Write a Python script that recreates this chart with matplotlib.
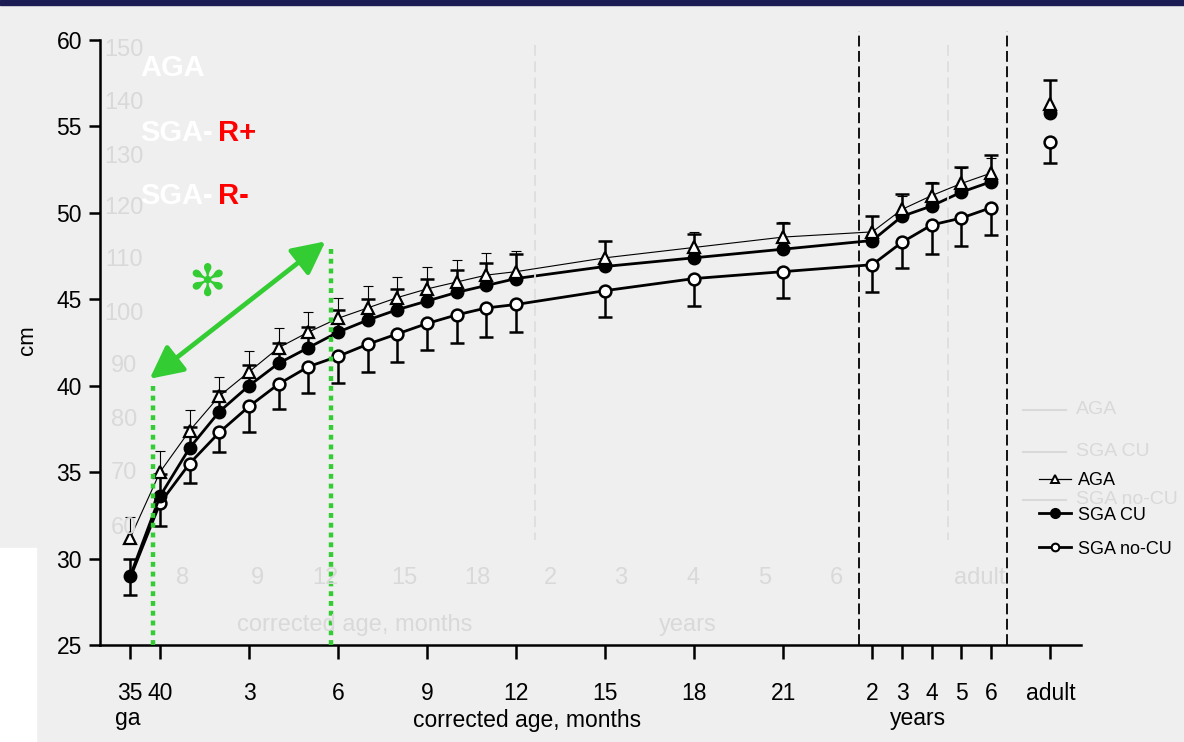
import matplotlib
matplotlib.use("Agg")
import matplotlib.pyplot as plt
from matplotlib.patches import Rectangle
from matplotlib.lines import Line2D
import numpy as np

plt.rcParams['font.family'] = ['Liberation Sans', 'DejaVu Sans']

# age positions: -1 = 35 wk ga, 0 = 40 wk, 1..21 = months, 24..28 = 2..6 years
age_x = [-1, 0, 1, 2, 3, 4, 5, 6, 7, 8, 9, 10, 11, 12, 15, 18, 21, 24, 25, 26, 27, 28]
adult_x = 30

aga = [31.2, 35.0, 37.4, 39.4, 40.8, 42.2, 43.1, 43.9, 44.5, 45.1, 45.6, 46.0, 46.4, 46.6,
       47.4, 48.0, 48.6, 48.9, 50.2, 51.0, 51.7, 52.3]
sga_cu = [29.0, 33.6, 36.4, 38.5, 40.0, 41.3, 42.2, 43.1, 43.8, 44.4, 44.9, 45.4, 45.8, 46.2,
          46.9, 47.4, 47.9, 48.4, 49.8, 50.4, 51.2, 51.8]
sga_nocu = [28.9, 33.2, 35.5, 37.3, 38.8, 40.1, 41.1, 41.7, 42.4, 43.0, 43.6, 44.1, 44.5, 44.7,
            45.5, 46.2, 46.6, 47.0, 48.3, 49.3, 49.7, 50.3]

# +1 SD for AGA / SGA CU, -1 SD for SGA no-CU
aga_sd = [1.2, 1.2, 1.2, 1.1, 1.2, 1.15, 1.15, 1.2, 1.25, 1.2, 1.25, 1.25, 1.25, 1.2,
          1.0, 0.9, 0.9, 0.9, 0.8, 0.8, 0.9, 0.9]
cu_sd = [1.0, 1.3, 1.2, 1.2, 1.2, 1.2, 1.2, 1.3, 1.2, 1.2, 1.3, 1.3, 1.3, 1.4,
         1.45, 1.4, 1.5, 1.4, 1.3, 1.3, 1.45, 1.55]
nocu_sd = [1.0, 1.3, 1.1, 1.15, 1.45, 1.45, 1.55, 1.55, 1.6, 1.6, 1.55, 1.6, 1.7, 1.6,
           1.55, 1.6, 1.55, 1.6, 1.5, 1.7, 1.6, 1.6]
cu_first_low_sd = 1.1

adult = {'aga': (56.3, 1.3), 'cu': (55.8, 1.9), 'nocu': (54.1, 1.2)}

tick_pos = [-1, 0, 3, 6, 9, 12, 15, 18, 21, 24, 25, 26, 27, 28, 30]
tick_lab = ['35', '40', '3', '6', '9', '12', '15', '18', '21', '2', '3', '4', '5', '6', 'adult']

GREEN = '#33cc33'
GHOST = '#d9d9d9'
W, H = 1184, 742


def fx(px):
    return px / W


def fy(py):
    return 1 - py / H


fig = plt.figure(figsize=(W / 100, H / 100), dpi=100)
fig.patch.set_facecolor('#efefef')
fig.add_artist(Rectangle((0, 0), fx(36), 194 / H, transform=fig.transFigure,
                         color='white', zorder=0))
fig.add_artist(Rectangle((0, fy(5)), 1, 5 / H, transform=fig.transFigure,
                         color='#1c1c54', zorder=0))

# faint show-through from the reverse page
for lab, py in zip(['150', '140', '130', '120', '110', '100', '90', '80', '70', '60'],
                   [50, 103, 157, 208, 260, 314, 366, 420, 473, 528]):
    fig.text(fx(124), fy(py), lab, color=GHOST, fontsize=17, ha='center', va='center')
for lab, px in zip(['8', '9', '12', '15', '18', '2', '3', '4', '5', '6', 'adult'],
                   [183, 257, 325, 404, 477, 550, 621, 693, 765, 836, 980]):
    fig.text(fx(px), fy(578), lab, color=GHOST, fontsize=17, ha='center', va='center')
fig.text(fx(355), fy(625), 'corrected age, months', color=GHOST, fontsize=17,
         ha='center', va='center')
fig.text(fx(688), fy(625), 'years', color=GHOST, fontsize=17, ha='center', va='center')
for lab, py in zip(['AGA', 'SGA CU', 'SGA no-CU'], [410, 452, 500]):
    fig.text(fx(1076), fy(py), lab, color=GHOST, fontsize=14, va='center')
    fig.add_artist(Line2D([fx(1023), fx(1066)], [fy(py), fy(py)], color=GHOST, lw=1.5))
for px in [535, 948]:
    fig.add_artist(Line2D([fx(px), fx(px)], [fy(45), fy(540)], color='#dedede',
                          lw=1.3, dashes=(6, 3)))

ax = fig.add_axes([fx(100), 97 / H, 981 / W, 605 / H])
ax.patch.set_alpha(0)
ax.set_xlim(-2.02, 31.03)
ax.set_ylim(25, 60)

x = np.array(age_x, dtype=float)


def draw_series(y, sd, sign, lw_line, lw_bar, cap, marker, mfc, ms, mew, z, first=0):
    y = np.array(y)
    ends = y + sign * np.array(sd)
    ax.plot(x, y, color='black', lw=lw_line, zorder=z)
    ax.vlines(x[first:], y[first:], ends[first:], color='black', lw=lw_bar, zorder=z)
    ax.plot(x[first:], ends[first:], ls='none', marker='_', ms=cap, mew=lw_bar,
            color='black', zorder=z)
    ax.plot(x[first:], y[first:], ls='none', marker=marker, mfc=mfc, mec='black', ms=ms,
            mew=mew, zorder=z + 0.5)


draw_series(sga_nocu, nocu_sd, -1, 2.0, 1.8, 10, 'o', 'white', 8.5, 1.8, 3, first=1)
draw_series(sga_cu, cu_sd, 1, 2.0, 1.8, 10, 'o', 'black', 9, 1.0, 4)
draw_series(aga, aga_sd, 1, 0.8, 0.8, 7, '^', 'white', 8.5, 1.6, 5)

# lower SD of SGA CU at 35 wk
ax.vlines(x[0], sga_cu[0], sga_cu[0] - cu_first_low_sd, color='black', lw=1.8, zorder=4)
ax.plot(x[0], sga_cu[0] - cu_first_low_sd, marker='_', ms=10, mew=1.8, color='black')

# adult values
v, s = adult['nocu']
ax.vlines(adult_x, v, v - s, color='black', lw=1.8, zorder=3)
ax.plot(adult_x, v - s, marker='_', ms=10, mew=1.8, color='black')
ax.plot(adult_x, v, marker='o', mfc='white', mec='black', ms=8.5, mew=1.8, zorder=3.5)
v, s = adult['cu']
ax.vlines(adult_x, v, v + s, color='black', lw=1.8, zorder=4)
ax.plot(adult_x, v + s, marker='_', ms=10, mew=1.8, color='black')
ax.plot(adult_x, v, marker='o', mfc='black', mec='black', ms=9, zorder=4.5)
v, s = adult['aga']
ax.plot(adult_x, v, marker='^', mfc='white', mec='black', ms=8.5, mew=1.6, zorder=5.5)

# period separators
for xv in [23.55, 28.55]:
    ax.axvline(xv, ymin=0, ymax=1.015, clip_on=False, color='black', lw=1.3,
               dashes=(6, 2.5), zorder=1)

for side in ['top', 'right']:
    ax.spines[side].set_visible(False)
for side in ['left', 'bottom']:
    ax.spines[side].set_linewidth(1.8)
ax.set_yticks([25, 30, 35, 40, 45, 50, 55, 60])
ax.set_xticks(tick_pos)
ax.set_xticklabels(tick_lab)
ax.tick_params(axis='y', length=8, width=1.8, labelsize=16.5, pad=5)
ax.tick_params(axis='x', length=10, width=1.8, labelsize=16.5, pad=17)

fig.text(fx(28), fy(340), 'cm', rotation=90, fontsize=16, ha='center', va='center')
fig.text(fx(128), fy(718), 'ga', fontsize=16.5, ha='center', va='center')
fig.text(fx(527), fy(720), 'corrected age, months', fontsize=16.5, ha='center', va='center')
fig.text(fx(918), fy(718), 'years', fontsize=16.5, ha='center', va='center')

# group labels
for lab, py, tag in [('AGA', 68, ''), ('SGA-', 133, 'R+'), ('SGA-', 196, 'R-')]:
    fig.text(fx(140), fy(py), lab, color='white', fontsize=21, weight='bold',
             family='Liberation Sans', va='center')
    if tag:
        fig.text(fx(218), fy(py), tag, color='red', fontsize=21, weight='bold',
                 family='Liberation Sans', va='center')

# early catch-up window
ax.plot([-0.24, -0.24], [25, 40.0], color=GREEN, lw=3.2, dashes=(1.1, 1.1), zorder=6)
ax.plot([5.75, 5.75], [25, 48.1], color=GREEN, lw=3.2, dashes=(1.1, 1.1), zorder=6)
ax.annotate('', xy=(-0.42, 40.3), xytext=(5.65, 48.45),
            arrowprops=dict(arrowstyle='<|-|>,head_length=1.0,head_width=0.5',
                            color=GREEN, lw=3.4, mutation_scale=20), zorder=6)
fig.text(fx(207), fy(283), '\u273b', color=GREEN, fontsize=32, family='DejaVu Sans',
         ha='center', va='center')

handles = [
    Line2D([], [], color='black', lw=0.9, marker='^', mfc='white', mec='black', ms=6, mew=1.4),
    Line2D([], [], color='black', lw=2.0, marker='o', mfc='black', mec='black', ms=7),
    Line2D([], [], color='black', lw=2.0, marker='o', mfc='white', mec='black', ms=5.5, mew=1.5),
]
fig.legend(handles, ['AGA', 'SGA CU', 'SGA no-CU'], loc='center left',
           bbox_to_anchor=(fx(1039), fy(515)), frameon=False, fontsize=13,
           handlelength=1.75, handletextpad=0.4, labelspacing=0.95,
           borderpad=0, borderaxespad=0)

fig.savefig('out.png', dpi=100, facecolor=fig.get_facecolor())
